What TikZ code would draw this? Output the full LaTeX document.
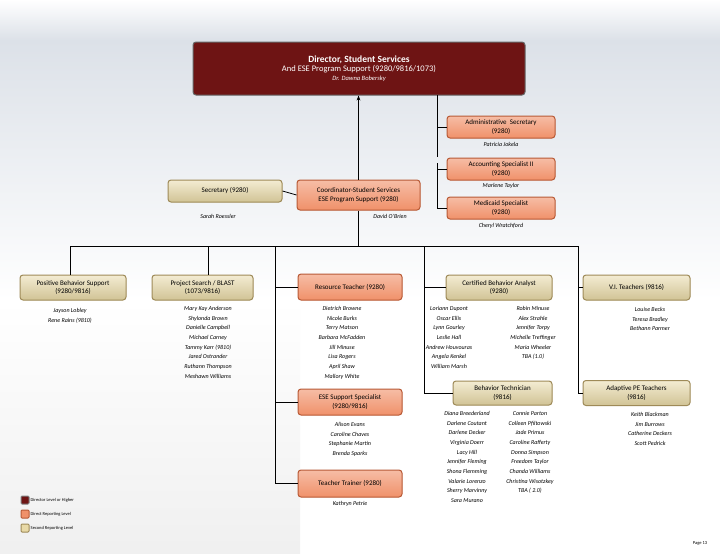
\documentclass[tikz,border=0pt]{standalone}
\usepackage{fontspec}
\setmainfont{Carlito}
\usetikzlibrary{arrows.meta}
\definecolor{dirc}{HTML}{6E1414}
\definecolor{orc}{HTML}{F0916A}
\definecolor{ordc}{HTML}{B85A36}
\definecolor{tanc}{HTML}{E8D9A6}
\definecolor{tandc}{HTML}{9E8A58}
\definecolor{bgc}{HTML}{DCE1E8}
\begin{document}
\begin{tikzpicture}[x=1pt,y=-1pt,
  box/.style={draw=#1,line width=1pt,rounded corners=3pt,align=center,inner sep=1pt,font=\fontsize{7}{8.5}\selectfont},
  org/.style={box=ordc,fill=orc,top color=orc!60!white,bottom color=orc},
  tan/.style={box=tandc,fill=tanc,top color=tanc!50!white,bottom color=tanc!90!black},
  nm/.style={align=center,font=\fontsize{6}{9.7}\selectfont\itshape,inner sep=0pt,anchor=north},
  ln/.style={draw=black,line width=0.8pt}]
\useasboundingbox (0,0) rectangle (720,554);
\fill[white] (0,0) rectangle (720,554);
\shade[top color=white,bottom color=bgc] (0,0) rectangle (720,40);
\shade[top color=bgc,bottom color=white] (0,40) rectangle (720,300);
\shade[top color=white,bottom color=black!6] (0,300) rectangle (300,554);
% director
\node[box=black!60,fill=dirc,text=white,minimum width=332pt,minimum height=53pt] (dir) at (359,68.5)
 {{\fontsize{9.5}{11}\selectfont\bfseries Director, Student Services}\\[1pt]{\fontsize{8.5}{10}\selectfont And ESE Program Support (9280/9816/1073)}\\{\fontsize{6.5}{8}\selectfont\itshape Dr. Dawna Bobersky}};
\node[org,minimum width=108pt,minimum height=22pt] (adm) at (501,127) {Administrative\ \ Secretary\\(9280)};
\node[nm] (admn) at (501,142) {Patricia Jokela};
\node[org,minimum width=108pt,minimum height=22pt] (acc) at (501,169) {Accounting Specialist II\\(9280)};
\node[nm] (accn) at (501,183) {Marlene Taylor};
\node[org,minimum width=108pt,minimum height=22pt] (med) at (501,208) {Medicaid Specialist\\(9280)};
\node[nm] (medn) at (501,223) {Cheryl Wratchford};
\node[tan,minimum width=114pt,minimum height=22pt] (sec) at (225,191) {Secretary (9280)};
\node[nm] (secn) at (218,214) {Sarah Roessler};
\node[org,minimum width=123pt,minimum height=30pt] (coo) at (358.5,195) {Coordinator-Student Services\\ESE Program Support (9280)};
\node[nm] (coon) at (390,214) {David O'Brien};
% second level
\node[tan,minimum width=106pt,minimum height=25pt] (pbs) at (73,287.5) {Positive Behavior Support\\(9280/9816)};
\node[nm] (pbsn) at (70,308) {Jayson Lobley\\Rene Rains (9810)};
\node[tan,minimum width=101pt,minimum height=25pt] (ps) at (202.5,287.5) {Project Search / BLAST\\(1073/9816)};
\node[nm] (psn) at (208,306) {Mary Kay Anderson\\Shylonda Brown\\Danielle Campbell\\Michael Carney\\Tammy Karr (9810)\\Jared Ostrander\\Ruthann Thompson\\Meshawn Williams};
\node[org,minimum width=104pt,minimum height=26pt] (rt) at (350,287) {Resource Teacher (9280)};
\node[nm] (rtn) at (342,306) {Dietrich Browne\\Nicole Burks\\Terry Matson\\Barbara McFadden\\Jill Minuse\\Lisa Rogers\\April Shaw\\Mallory White};
\node[org,minimum width=104pt,minimum height=26pt] (ese) at (350,402) {ESE Support Specialist\\(9280/9816)};
\node[nm] (esen) at (350,422) {Alison Evans\\Caroline Chaves\\Stephanie Martin\\Brenda Sparks};
\node[org,minimum width=104pt,minimum height=27pt] (tt) at (350,483.5) {Teacher Trainer (9280)};
\node[nm] (ttn) at (350,501) {Kathryn Petrie};
\node[tan,minimum width=106pt,minimum height=25pt] (cba) at (499,287.5) {Certified Behavior Analyst\\(9280)};
\node[nm] (cban1) at (449,306) {Loriann Dupont\\Oscar Ellis\\Lynn Gourley\\Leslie Hall\\Andrew Houvouras\\Angela Kenkel\\William Marsh};
\node[nm] (cban2) at (533,306) {Robin Minuse\\Alex Strahle\\Jennifer Torpy\\Michelle Treffinger\\Maria Wheeler\\TBA (1.0)};
\node[tan,minimum width=99pt,minimum height=24pt] (bt) at (502.5,393) {Behavior Technician\\(9816)};
\node[nm] (btn1) at (467,411) {Diana Breederland\\Darlene Coutant\\Darlene Decker\\Virginia Doerr\\Lacy Hill\\Jennifer Fleming\\Shona Flemming\\Valarie Lorenzo\\Sherry Marvinny\\Sara Murano};
\node[nm] (btn2) at (530,411) {Connie Parton\\Colleen Pfiltowski\\Jade Primus\\Caroline Rafferty\\Donna Simpson\\Freedom Taylor\\Chanda Williams\\Christina Wisotzkey\\TBA ( 2.0)};
\node[tan,minimum width=107pt,minimum height=25pt] (ve) at (636.5,287.5) {V.I. Teachers (9816)};
\node[nm] (ven) at (650,307) {Louise Becks\\Teresa Bradley\\Bethann Parmer};
\node[tan,minimum width=107pt,minimum height=25pt] (ape) at (636.5,393) {Adaptive PE Teachers\\(9816)};
\node[nm] (apen) at (650,412) {Keith Blackman\\Jim Burrows\\Catherine Deckers\\Scott Pedrick};
% connectors
\coordinate (bl) at (70,246); \coordinate (br) at (578,246);
\draw[ln,-{Stealth[length=5pt]}] (coo.north) -- (coo.north|-dir.south);
\draw[ln] (coo.south) -- (coo.south|-bl);
\draw[ln] (bl) -- (br);
\draw[ln] (bl) -- (pbs.north-|bl);
\draw[ln] (ps.north-|208,0) -- (208,246);
\draw[ln] (275,246) -- (275,483.5) -- (tt.west);
\draw[ln] (275,287) -- (rt.west);
\draw[ln] (275,402) -- (ese.west);
\draw[ln] (424,246) -- (424,393) -- (bt.west);
\draw[ln] (424,287.5) -- (cba.west);
\draw[ln] (br) -- (578,393) -- (ape.west);
\draw[ln] (578,287.5) -- (ve.west);
\draw[ln] (sec.east) -- (coo.west);
\draw[ln] (437,95) -- (437,157);
\draw[ln] (437,163) -- (437,208) -- (med.west);
\draw[ln] (437,127) -- (adm.west);
\draw[ln] (437,169) -- (acc.west);
% legend
\node[box=black!50,fill=dirc,minimum size=8pt,inner sep=0pt,rounded corners=1pt] (l1) at (25,500) {};
\node[box=ordc,fill=orc,minimum size=8pt,inner sep=0pt,rounded corners=1pt] (l2) at (25,514) {};
\node[box=tandc,fill=tanc,minimum size=8pt,inner sep=0pt,rounded corners=1pt] (l3) at (25,528) {};
\node[anchor=west,font=\fontsize{4.5}{5}\selectfont,inner sep=1pt] (t1) at (l1.east) {Director Level or Higher};
\node[anchor=west,font=\fontsize{4.5}{5}\selectfont,inner sep=1pt] (t2) at (l2.east) {Direct Reporting Level};
\node[anchor=west,font=\fontsize{4.5}{5}\selectfont,inner sep=1pt] (t3) at (l3.east) {Second Reporting Level};
\node[font=\fontsize{4.5}{5}\selectfont] (pg) at (700,543) {Page 13};
\end{tikzpicture}
\end{document}
